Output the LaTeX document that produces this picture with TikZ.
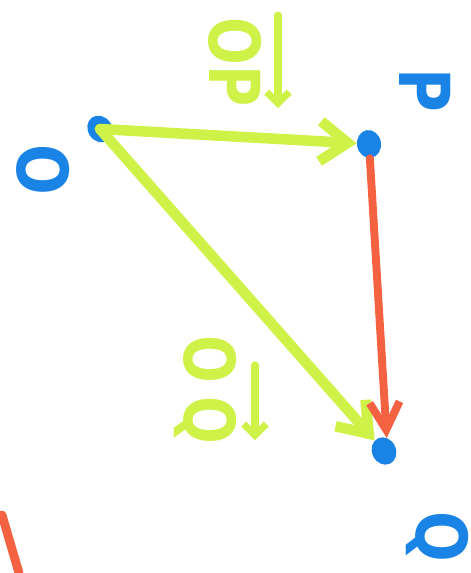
\documentclass[tikz,border=0pt]{standalone}
\usepackage{fontspec}
\setmainfont{DejaVu Sans}
\usetikzlibrary{arrows.meta,positioning,calc,shapes.geometric}

\definecolor{marklime}{RGB}{206,242,72}
\definecolor{markblue}{RGB}{25,132,230}
\definecolor{markred}{RGB}{245,98,66}

\begin{document}
\begin{tikzpicture}[
    dot/.style={ellipse, fill=markblue, inner sep=0pt, minimum width=0.48cm, minimum height=0.56cm},
    ptlabel/.style={text=markblue, rotate=-90, xscale=0.85, inner sep=0pt, font=\fontsize{40}{40}\selectfont\bfseries},
    veclbl/.style={text=marklime, rotate=-90, xscale=0.8, inner sep=0pt, font=\fontsize{40}{40}\selectfont\bfseries},
    overarrow/.style={-{Straight Barb[length=0.22cm, width=0.45cm]}, line width=4pt, draw=marklime, line cap=round},
    vec/.style={-{Straight Barb[length=0.55cm, width=0.8cm]}, line width=6pt, draw=marklime, line cap=round},
    diff/.style={-{Straight Barb[length=0.55cm, width=0.6cm]}, line width=4.5pt, draw=markred, line cap=round}
]
    \useasboundingbox (0,0) rectangle (9.4,-11.46);

    \node[dot, rotate=35] (o) at (2.0,-2.58) {};
    \node[dot, rotate=10] (p) at (7.38,-2.88) {};
    \node[dot, rotate=25] (q) at (7.68,-9.02) {};

    \node[ptlabel] (lo) at (0.86,-3.4) {O};
    \node[ptlabel] (lp) at (8.5,-1.8) {P};
    \node[ptlabel] (lq) at (8.74,-10.74) {Q};

    \node[veclbl] (lop) at (4.7,-1.24) {OP};
    \node[veclbl] (loq) at (4.1,-7.8) {O\hspace{0.35cm}Q};

    % the arrows over the vector names
    \draw[overarrow] ($(lop.center)+(0.86,0.94)$) -- ($(lop.center)+(0.86,-0.92)$);
    \draw[overarrow] ($(loq.center)+(1.0,0.5)$) -- ($(loq.center)+(1.0,-1.0)$);

    \draw[vec] (o.center) -- (p);
    \draw[vec] (o.center) -- (q);
    \draw[diff] (p) -- ([xshift=5pt]q.north);

    % cut-off stroke at the lower left edge
    \draw[markred, line width=5pt, line cap=round] (0.04,-10.3) -- (0.38,-11.46);
\end{tikzpicture}
\end{document}
